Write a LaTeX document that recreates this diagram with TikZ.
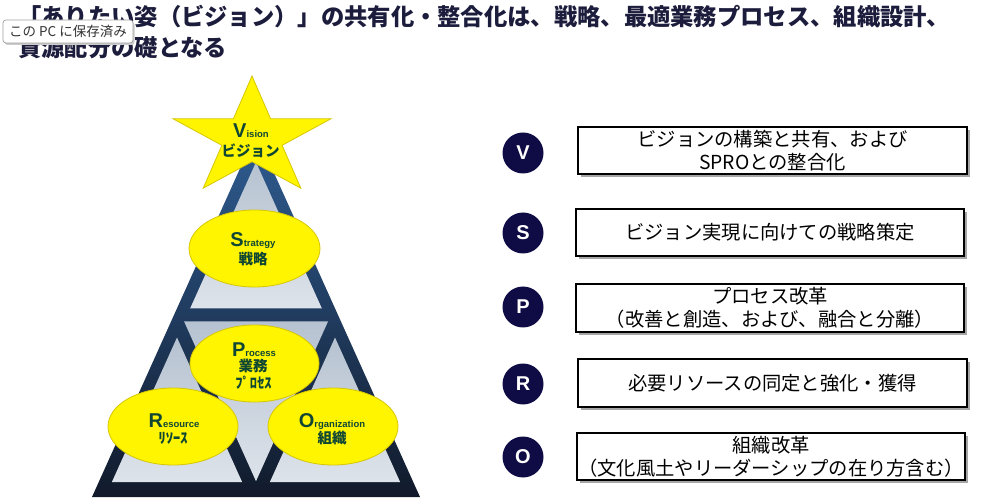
\documentclass[tikz,border=0pt]{standalone}
\usepackage{fontspec}
\setmainfont{Liberation Sans}
\newfontfamily\jp{Noto Sans CJK JP}
\usetikzlibrary{shapes.geometric,shadows}
\definecolor{titlec}{HTML}{1C1C3C}
\definecolor{pyrtop}{HTML}{2F5D92}
\definecolor{pyrmid}{HTML}{213F66}
\definecolor{pyrbot}{HTML}{111A2B}
\definecolor{lighttop}{HTML}{B6C2D1}
\definecolor{lightbot}{HTML}{DDE3EA}
\definecolor{yel}{HTML}{FFF500}
\definecolor{yelline}{HTML}{D6C600}
\definecolor{pyrtext}{HTML}{0F4634}
\definecolor{circc}{HTML}{0E0B45}
\definecolor{tipline}{HTML}{A0A0A0}
\newcommand\pyrbig{\fontsize{20}{20}\selectfont}
\newcommand\pyrsmall{\fontsize{9.5}{9.5}\selectfont}
\tikzset{
  lighttri/.style={top color=lighttop, bottom color=lightbot},
  starshape/.style={fill=yel, draw=yelline, line width=0.8pt},
  ell/.style={ellipse, fill=yel, draw=yelline, line width=0.8pt, inner sep=0pt},
  lbl/.style={font=\bfseries, text=pyrtext, inner sep=0pt, anchor=base},
  jlbl/.style={font=\jp\bfseries\fontsize{14.5}{14.5}\selectfont, text=pyrtext, inner sep=0pt},
  circ/.style={circle, fill=circc, minimum size=41pt, inner sep=0pt, text=white, font=\bfseries\fontsize{20}{20}\selectfont},
  infobox/.style={draw=black, line width=1.1pt, fill=white, inner sep=0pt, align=center,
    font=\jp\fontsize{19.3}{23}\selectfont,
    drop shadow={shadow xshift=3pt, shadow yshift=-3pt, fill=black!35, opacity=1}},
  titlel/.style={anchor=base west, inner sep=0pt, text=titlec, font=\jp\bfseries\fontsize{23.3}{23.3}\selectfont},
  tooltip/.style={draw=tipline, fill=white, rounded corners=3pt, line width=0.7pt,
    minimum width=130pt, minimum height=23pt, inner sep=0pt, text=black!80,
    font=\jp\fontsize{13.5}{13.5}\selectfont,
    drop shadow={shadow xshift=1.5pt, shadow yshift=-2pt, fill=black!20, opacity=1}}
}
\begin{document}
\begin{tikzpicture}[x=1pt,y=-1pt]
\useasboundingbox (0,0) rectangle (982,502);
\fill[white] (0,0) rectangle (982,502);

% title
\node[titlel] (t1) at (18,26) {「ありたい姿（ビジョン）」の共有化・整合化は、戦略、最適業務プロセス、組織設計、};
\node[titlel] (t2) at (18,57) {資源配分の礎となる};
\node[tooltip] (tip) at (68,31.5) {この PC に保存済み};

% pyramid
\shade[top color=pyrtop, middle color=pyrmid, bottom color=pyrbot] (256,133) -- (92,497) -- (420,497) -- cycle;
\shade[lighttri] (256,162.2) -- (190.1,308.5) -- (321.9,308.5) -- cycle;
\shade[lighttri] (184.1,321.5) -- (328,321.5) -- (256,481.2) -- cycle;
\shade[lighttri] (177,337.5) -- (111.9,482) -- (242.1,482) -- cycle;
\shade[lighttri] (335,337.5) -- (269.9,482) -- (400.1,482) -- cycle;

% star
\draw[starshape] (252,76) -- (233.4,118.8) -- (173.1,118.8) -- (221.9,145.3) -- (203.2,188.2)
  -- (252,161.7) -- (300.8,188.2) -- (282.1,145.3) -- (330.9,118.8) -- (270.6,118.8) -- cycle;

% ellipses
\node[ell, minimum width=131pt, minimum height=77pt] (es) at (254.5,248.5) {};
\node[ell, minimum width=129pt, minimum height=77pt] (ep) at (254.5,363.5) {};
\node[ell, minimum width=130pt, minimum height=77pt] (er) at (173,426.5) {};
\node[ell, minimum width=130pt, minimum height=77pt] (eo) at (333,426.5) {};

% pyramid labels
\node[lbl] (tv) at (251,138) {\pyrbig V\pyrsmall ision};
\node[jlbl] (tvj) at (250.5,151) {ビジョン};
\node[lbl] (ts) at (253,247) {\pyrbig S\pyrsmall trategy};
\node[jlbl] (tsj) at (253,259) {戦略};
\node[lbl] (tp) at (254,356) {\pyrbig P\pyrsmall rocess};
\node[jlbl] (tpj) at (253,366) {業務};
\node[jlbl] (tpk) at (253.5,383) {ﾌﾟﾛｾｽ};
\node[lbl] (tr) at (174,427) {\pyrbig R\pyrsmall esource};
\node[jlbl] (trk) at (173,438) {ﾘｿｰｽ};
\node[lbl] (to) at (332,427) {\pyrbig O\pyrsmall rganization};
\node[jlbl] (toj) at (332,438) {組織};

% right column
\node[circ] (cv) at (523,153) {V};
\node[circ] (cs) at (523,233) {S};
\node[circ] (cp) at (523,307) {P};
\node[circ] (cr) at (523,384) {R};
\node[circ] (co) at (523,457) {O};

\node[infobox, minimum width=389pt, minimum height=47pt] (bv) at (772.5,150.5) {ビジョンの構築と共有、および\\SPROとの整合化};
\node[infobox, minimum width=388pt, minimum height=47pt] (bs) at (770,232.5) {ビジョン実現に向けての戦略策定};
\node[infobox, minimum width=388pt, minimum height=48pt] (bp) at (770,308) {プロセス改革\\（改善と創造、および、融合と分離）};
\node[infobox, minimum width=389pt, minimum height=48pt] (br) at (772.5,383) {必要リソースの同定と強化・獲得};
\node[infobox, minimum width=388pt, minimum height=47pt] (bo) at (771,456.5) {組織改革\\（文化風土やリーダーシップの在り方含む）};
\end{tikzpicture}
\end{document}
